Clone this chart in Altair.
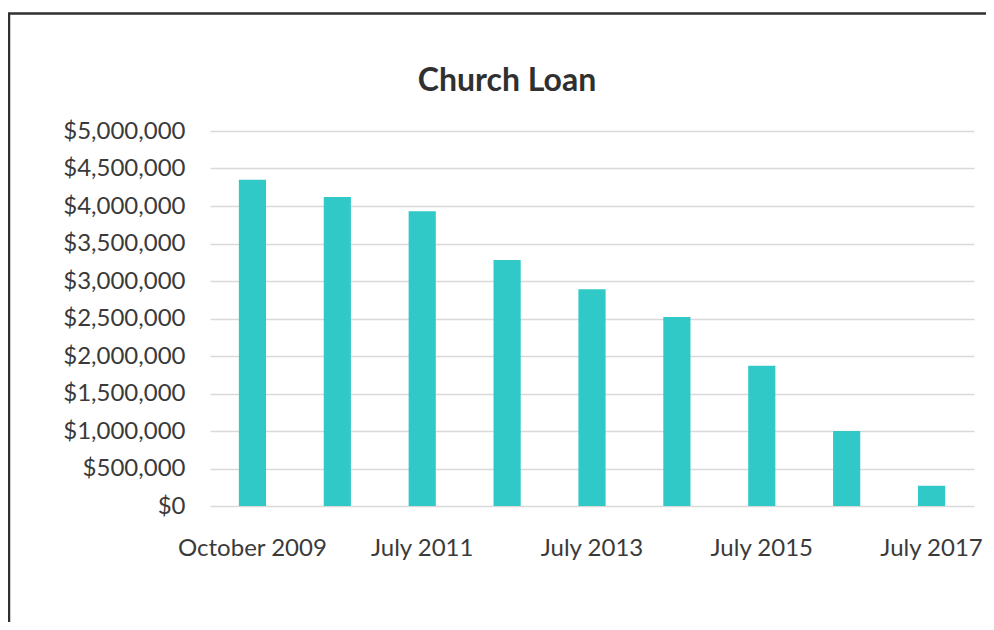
import altair as alt
import pandas as pd

dates = ["October 2009", "July 2010", "July 2011", "July 2012", "July 2013",
         "July 2014", "July 2015", "July 2016", "July 2017"]
balances = [4350000, 4120000, 3930000, 3280000, 2890000, 2520000, 1870000, 1000000, 270000]
shown_labels = ["October 2009", "July 2011", "July 2013", "July 2015", "July 2017"]
y_ticks = [0, 500000, 1000000, 1500000, 2000000, 2500000, 3000000, 3500000, 4000000, 4500000, 5000000]

df = pd.DataFrame({"date": dates, "balance": balances})

FONT = "Lato"
label_expr = "indexof(" + str(shown_labels).replace("'", '"') + ", datum.value) >= 0 ? datum.value : ''"

bars = alt.Chart(df).mark_bar(color="#30C9C8").encode(
    x=alt.X("date:N", sort=dates,
            scale=alt.Scale(paddingInner=0.68, paddingOuter=0.34),
            axis=alt.Axis(title=None, labelExpr=label_expr, labelAngle=0, ticks=False,
                          domain=False, labelFont=FONT, labelFontSize=24,
                          labelColor="#3A3A3A", labelPadding=30, labelOverlap=False)),
    y=alt.Y("balance:Q", scale=alt.Scale(domain=[0, 5000000], nice=False),
            axis=alt.Axis(title=None, values=y_ticks, format="$,.0f", ticks=False,
                          domain=False, labelFont=FONT, labelFontSize=24,
                          labelColor="#3A3A3A", labelPadding=25,
                          gridColor="#D9D9D9", gridWidth=1.3)),
)

frame = alt.Chart(pd.DataFrame({"k": [0]})).mark_rect(
    fill=None, stroke="#303030", strokeWidth=2.5
).encode(x=alt.value(-201), x2=alt.value(900), y=alt.value(-117.5), y2=alt.value(700))

chart = alt.layer(frame, bars).properties(
    width=764, height=375,
    autosize=alt.AutoSizeParams(type="none"),
    padding={"left": 202, "top": 123, "right": 12, "bottom": 116},
    title=alt.TitleParams("Church Loan", font=FONT, fontSize=32, fontWeight="bold",
                          color="#303030", anchor="middle", frame="group",
                          offset=0, dx=-85, dy=86),
).configure_view(stroke=None)

chart.save("out.html", embed_options={"renderer": "svg", "actions": False})
